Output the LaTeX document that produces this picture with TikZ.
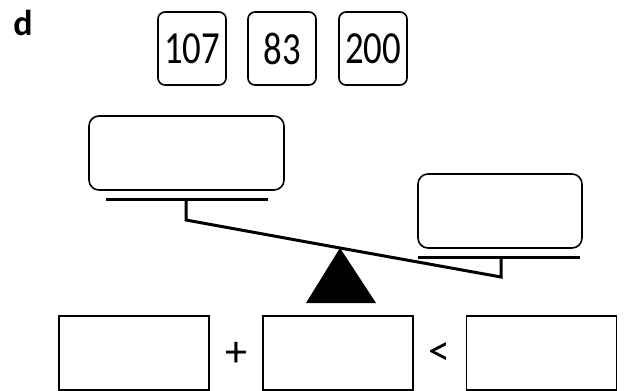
\documentclass[tikz,border=0pt]{standalone}
\usepackage{fontspec}
\setmainfont{Carlito}
\newfontfamily\cardfont[FakeStretch=0.8]{Carlito}
\begin{document}
\begin{tikzpicture}[x=1pt, y=-1pt]
			\tikzstyle{every node}=[inner sep=0pt, align=center]
			\tikzstyle{numcard}=[draw, line width=1.6pt, rounded corners=7pt, minimum width=68pt, minimum height=73pt, font=\cardfont\fontsize{46}{50}\selectfont]
			\tikzstyle{panbox}=[draw, line width=1.6pt, rounded corners=10pt, minimum height=74pt]
			\tikzstyle{answer}=[draw, line width=1.2pt, minimum width=150pt, minimum height=74pt]
			\tikzstyle{sign}=[font=\fontsize{44}{48}\selectfont]
			\useasboundingbox (0, 0) rectangle (625, 391);
			\node[font=\bfseries\fontsize{36}{40}\selectfont] (D) at (23, 23) {d};
			\node[numcard] (A) at (192, 48.5) {107};
			\node[numcard] (B) at (282, 48.5) {83};
			\node[numcard] (C) at (373, 48.5) {200};
			\node[panbox, minimum width=195pt] (L) at (186.5, 153) {};
			\node[panbox, minimum width=164pt] (R) at (500, 211) {};
			\coordinate (LP) at (186, 199);
			\coordinate (LS) at (186, 220);
			\coordinate (T) at (340, 248);
			\coordinate (RS) at (501, 277);
			\coordinate (RP) at (501, 257);
			\draw [line width=3pt] (106, 199) -- (268, 199);
			\draw [line width=3pt] (418, 257) -- (580, 257);
			\draw [line width=3pt, line join=miter] (LP) -- (LS) -- (T) -- (RS) -- (RP);
			\fill (T) -- (306, 303) -- (376, 303) -- cycle;
			\node[answer] (X) at (134, 353) {};
			\node[answer] (Y) at (338, 353) {};
			\node[answer] (Z) at (541.5, 353) {};
			\node[sign] (P) at (236, 354) {+};
			\node[sign] (Q) at (439, 354) {<};
	\end{tikzpicture}
\end{document}
